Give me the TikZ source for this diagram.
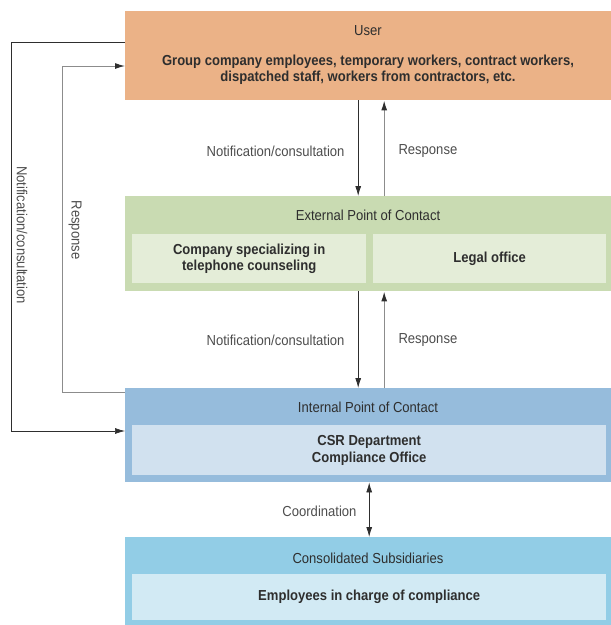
\documentclass[tikz,border=0pt]{standalone}
\usepackage{fontspec}
\setmainfont{Liberation Sans}[FakeStretch=0.9]
\usetikzlibrary{arrows.meta}

\definecolor{userfill}{HTML}{EBB287}
\definecolor{extfill}{HTML}{C9DBB2}
\definecolor{extinner}{HTML}{E4EDD8}
\definecolor{intfill}{HTML}{96BCDC}
\definecolor{intinner}{HTML}{D1E1EF}
\definecolor{subfill}{HTML}{92CDE6}
\definecolor{subinner}{HTML}{D2EAF4}
\definecolor{txt}{HTML}{2E2E2E}
\definecolor{respgray}{HTML}{8C8C8C}

\tikzset{
  panel/.style={rectangle, anchor=north west, inner sep=0pt, draw=none},
  head/.style={text=txt, font=\fontsize{14.5}{16}\selectfont},
  body/.style={text=txt, font=\fontsize{14.5}{16.5}\selectfont\bfseries, align=center},
  lbl/.style={text=txt!85, font=\fontsize{14.5}{16}\selectfont},
  notif/.style={-{Latex[length=10pt,width=6pt]}, draw=txt, line width=0.8pt},
  resp/.style={-{Latex[length=10pt,width=6pt,color=txt]}, draw=respgray, line width=1.3pt},
}

\begin{document}
\begin{tikzpicture}[x=1pt, y=-1pt]
      \useasboundingbox (0,0) rectangle (611,625);

      % user
      \node[panel, fill=userfill, minimum width=486pt, minimum height=89pt] (user) at (125,11) {};
      \node[head] (usert) at (368,31) {User};
      \node[body] (userb) at (368,69.5) {Group company employees, temporary workers, contract workers,\\dispatched staff, workers from contractors, etc.};

      % external point of contact
      \node[panel, fill=extfill, minimum width=486pt, minimum height=95pt] (ext) at (125,196) {};
      \node[head] (extt) at (368,215) {External Point of Contact};
      \node[panel, fill=extinner, minimum width=234pt, minimum height=49pt] (tel) at (132,234) {};
      \node[panel, fill=extinner, minimum width=233pt, minimum height=49pt] (legal) at (373,234) {};
      \node[body] at (tel.center) {Company specializing in\\telephone counseling};
      \node[body] at (legal.center) {Legal office};

      % internal point of contact
      \node[panel, fill=intfill, minimum width=486pt, minimum height=94pt] (int) at (125,388) {};
      \node[head] (intt) at (368,407) {Internal Point of Contact};
      \node[panel, fill=intinner, minimum width=474pt, minimum height=50pt] (csr) at (132,425) {};
      \node[body] at (csr.center) {CSR Department\\Compliance Office};

      % subsidiaries
      \node[panel, fill=subfill, minimum width=486pt, minimum height=88pt] (sub) at (125,537) {};
      \node[head] (subt) at (368,558) {Consolidated Subsidiaries};
      \node[panel, fill=subinner, minimum width=474pt, minimum height=46pt] (emp) at (132,574) {};
      \node[body] at (emp.center) {Employees in charge of compliance};

      % vertical connectors
      \draw[notif] ([xshift=-10pt]user.south) -- ([xshift=-10pt]ext.north);
      \draw[resp] ([xshift=16pt]ext.north) -- ([xshift=16pt]user.south);
      \draw[notif] ([xshift=-10pt]ext.south) -- ([xshift=-10pt]int.north);
      \draw[resp] ([xshift=16pt]int.north) -- ([xshift=16pt]ext.south);
      \draw[{Latex[length=10pt,width=6pt]}-{Latex[length=10pt,width=6pt]}, draw=txt, line width=0.8pt]
        ([xshift=1pt]int.south) -- ([xshift=1pt]sub.north);

      \node[lbl, anchor=east] at (348,151) {Notification/consultation};
      \node[lbl, anchor=west] at (395,151) {Response};
      \node[lbl, anchor=east] at (348,340) {Notification/consultation};
      \node[lbl, anchor=west] at (395,340) {Response};
      \node[lbl, anchor=east] at (360,511) {Coordination};

      % side loops
      \draw[notif, line width=0.6pt] ([yshift=-31pt]user.north west) -- ++(-114,0) |- ([yshift=-43pt]int.north west);
      \draw[resp, line width=1pt] ([yshift=-4pt]int.north west) -- ++(-63,0) |- ([yshift=-55pt]user.north west);
      \node[lbl, rotate=-90] at (22,235) {Notification/consultation};
      \node[lbl, rotate=-90] at (75,230) {Response};
\end{tikzpicture}
\end{document}
